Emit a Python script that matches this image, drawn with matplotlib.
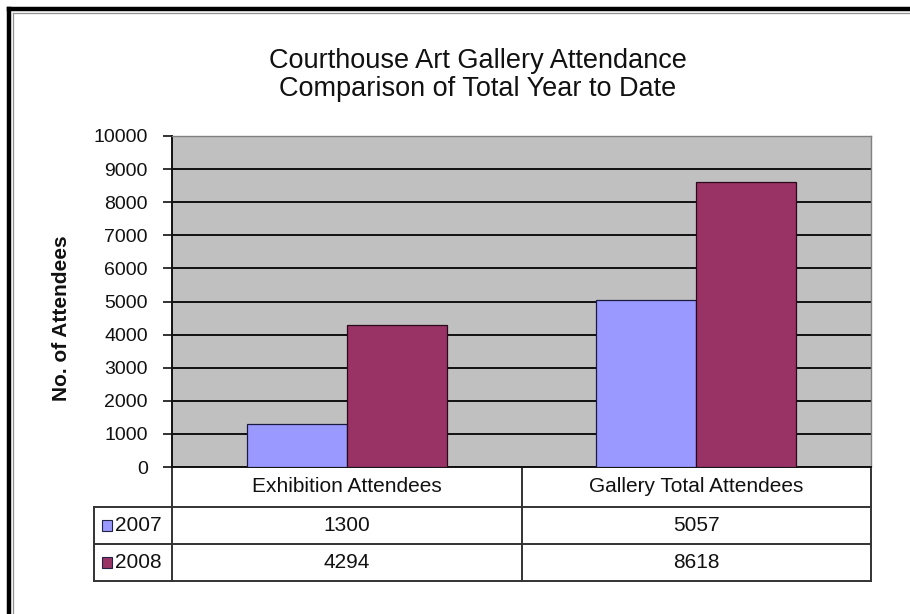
import matplotlib
matplotlib.use("Agg")
import matplotlib.pyplot as plt
from matplotlib.lines import Line2D
from matplotlib.patches import Rectangle
import matplotlib.transforms as mtransforms
import numpy as np

plt.rcParams['font.family'] = ['Liberation Sans', 'DejaVu Sans']

title_lines = ["Courthouse Art Gallery Attendance", "Comparison of Total Year to Date"]
categories = ["Exhibition Attendees", "Gallery Total Attendees"]
series_names = ["2007", "2008"]
values_2007 = [1300, 5057]
values_2008 = [4294, 8618]
yticks = list(range(0, 10001, 1000))
ylabel = "No. of Attendees"

colors = ["#9999FF", "#993366"]
W, H = 910, 614
fig = plt.figure(figsize=(W / 100, H / 100), dpi=100)
fig.patch.set_facecolor("white")

def fx(px):
    return px / W

def fy(py):
    return 1 - py / H

# plot area in pixels
L, R, T, B = 172, 871, 136, 467
ax = fig.add_axes([fx(L), fy(B), (R - L) / W, (B - T) / H])
ax.set_facecolor("#C0C0C0")

x = np.arange(len(categories))
bw = 100 / ((R - L) / len(categories))
ax.bar(x - bw / 2, values_2007, width=bw, color=colors[0], edgecolor="#1a1a40", linewidth=0.9, zorder=3)
ax.bar(x + bw / 2, values_2008, width=bw, color=colors[1], edgecolor="#2a0a18", linewidth=0.9, zorder=3)

ax.set_xlim(-0.5, len(categories) - 0.5)
ax.set_ylim(0, 10000)
ax.set_yticks(yticks)
ax.set_yticklabels([str(t) for t in yticks], fontsize=14, color="#111111")
ax.tick_params(axis="y", direction="out", length=6.5, width=1.2, pad=11, colors="#111111")
ax.set_xticks([])
ax.grid(axis="y", color="#111111", linewidth=1.4, zorder=1)
ax.set_axisbelow(True)
for s in ["top", "right"]:
    ax.spines[s].set_color("#808080")
    ax.spines[s].set_linewidth(1.0)
ax.spines["left"].set_color("#111111")
ax.spines["left"].set_linewidth(1.4)
ax.spines["bottom"].set_color("#111111")
ax.spines["bottom"].set_linewidth(1.4)

# y axis title
fig.text(fx(62), fy(318), ylabel, rotation=90, ha="center", va="center",
         fontsize=15, fontweight="bold", color="#111111")

# table below the axis, x in data coords, y in axes fraction
trans = mtransforms.blended_transform_factory(ax.transData, ax.transAxes)
ph = B - T
def ay(py):
    return (B - py) / ph

row_y = [ay(467), ay(507), ay(544), ay(581)]
ux = len(categories) / (R - L)
x_left_leg = -0.5 + (94 - L) * ux
x_lo, x_hi = -0.5, len(categories) - 0.5
lc = "#333333"
lw = 1.4
for yy in row_y[1:]:
    ax.add_line(Line2D([x_left_leg, x_hi], [yy, yy], transform=trans, color=lc, lw=lw, clip_on=False))
for xv in [x_lo, 0.5, x_hi]:
    ax.add_line(Line2D([xv, xv], [row_y[0], row_y[3]], transform=trans, color=lc, lw=lw, clip_on=False))
ax.add_line(Line2D([x_left_leg, x_left_leg], [row_y[1], row_y[3]], transform=trans, color=lc, lw=lw, clip_on=False))

for i, c in enumerate(categories):
    ax.text(i, (row_y[0] + row_y[1]) / 2, c, transform=trans, ha="center", va="center",
            fontsize=15, color="#111111", clip_on=False)
for r, vals in enumerate([values_2007, values_2008]):
    ymid = (row_y[r + 1] + row_y[r + 2]) / 2
    for i, v in enumerate(vals):
        ax.text(i, ymid, str(v), transform=trans, ha="center", va="center",
                fontsize=15, color="#111111", clip_on=False)
    sq_w = 10 * ux
    sq_h = 11 / ph
    x0 = x_left_leg + 8 * ux
    ax.add_patch(Rectangle((x0, ymid - sq_h / 2), sq_w, sq_h, transform=trans,
                           facecolor=colors[r], edgecolor="#222244", lw=0.8, clip_on=False))
    ax.text(x0 + sq_w + 3 * ux, ymid, series_names[r], transform=trans,
            ha="left", va="center", fontsize=15, color="#111111", clip_on=False)

# title
for k, line in enumerate(title_lines):
    fig.text(fx(478), fy(61 + 28 * k), line, ha="center", va="center", fontsize=19.5,
             color="#111111")

# outer border (top and left)
fig.add_artist(Line2D([fx(9), 1], [fy(9), fy(9)], color="black", lw=3.2))
fig.add_artist(Line2D([fx(9), fx(9)], [fy(9), 0], color="black", lw=3.2))
fig.add_artist(Line2D([fx(12.5), 1], [fy(12.5), fy(12.5)], color="#909090", lw=0.9))
fig.add_artist(Line2D([fx(12.5), fx(12.5)], [fy(12.5), 0], color="#909090", lw=0.9))

fig.savefig("out.png", dpi=100)
